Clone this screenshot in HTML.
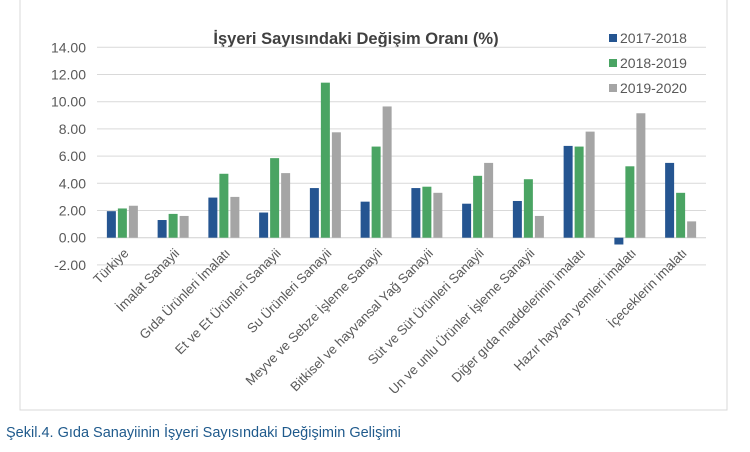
<!DOCTYPE html>
<html><head><meta charset="utf-8"><style>
body{margin:0;background:#fff;width:750px;height:447px;overflow:hidden;font-family:"Liberation Sans",sans-serif}
</style></head><body>
<svg width="750" height="447" id="svg">
<rect x="20" y="-2" width="707" height="412" fill="#fff" stroke="#d9d9d9"/>
<text x="356" y="44" text-anchor="middle" font-size="16.5" font-weight="bold" fill="#404040">İşyeri Sayısındaki Değişim Oranı (%)</text>
<g id="grid"></g><g id="bars"></g><g id="labels"></g>
<g>
<rect x="609" y="34" width="8" height="8" fill="#255591"/>
<text x="620" y="43" font-size="14" fill="#595959">2017-2018</text>
<rect x="609" y="59" width="8" height="8" fill="#4aa463"/>
<text x="620" y="68" font-size="14" fill="#595959">2018-2019</text>
<rect x="609" y="84" width="8" height="8" fill="#a5a5a5"/>
<text x="620" y="93" font-size="14" fill="#595959">2019-2020</text>
</g>
<text x="6" y="437" font-size="14.5" fill="#1f5a8c">Şekil.4. Gıda Sanayiinin İşyeri Sayısındaki Değişimin Gelişimi</text>
</svg>
<script>
const categories=["Türkiye","İmalat Sanayii","Gıda Ürünleri İmalatı","Et ve Et Ürünleri Sanayii","Su Ürünleri Sanayii","Meyve ve Sebze İşleme Sanayii","Bitkisel ve hayvansal Yağ Sanayii","Süt ve Süt Ürünleri Sanayii","Un ve unlu Ürünler İşleme Sanayii","Diğer gıda maddelerinin imalatı","Hazır hayvan yemleri imalatı","İçeceklerin imalatı"];
const s2017=[1.95,1.3,2.95,1.85,3.65,2.65,3.65,2.5,2.7,6.75,-0.5,5.5];
const s2018=[2.15,1.75,4.7,5.85,11.4,6.7,3.75,4.55,4.3,6.7,5.25,3.3];
const s2019=[2.35,1.6,3.0,4.75,7.75,9.65,3.3,5.5,1.6,7.8,9.15,1.2];
const yTicks=[-2,0,2,4,6,8,10,12,14];
const NS="http://www.w3.org/2000/svg";
const x0=97,x1=706,yZero=237.7,pxPer=13.6;
const y=v=>yZero-v*pxPer;
const bw=(x1-x0)/categories.length;
const g=document.getElementById('grid'),b=document.getElementById('bars'),L=document.getElementById('labels');
function mk(tag,attrs,parent){const e=document.createElementNS(NS,tag);for(const k in attrs)e.setAttribute(k,attrs[k]);parent.appendChild(e);return e;}
yTicks.forEach(t=>{
 const l=mk('line',{x1:x0,x2:x1,y1:y(t),y2:y(t),stroke:t===0?'#d0d0d0':'#d9d9d9','stroke-width':1},g);
 
 
 const tx=mk('text',{x:86,y:y(t)+5,'text-anchor':'end','font-size':14,fill:'#595959'},g);
 tx.textContent=t.toFixed(2);
 
 
});
const series=[[s2017,'#255591','2017-2018'],[s2018,'#4aa463','2018-2019'],[s2019,'#a5a5a5','2019-2020']];
categories.forEach((c,i)=>{
 const cx=x0+bw*(i+0.5);
 series.forEach(([arr,col,nm],j)=>{
  const v=arr[i];
  const r=mk('rect',{x:cx-15.5+j*11,y:Math.min(y(v),yZero),width:9,height:Math.abs(v)*pxPer,fill:col},b);
  
  
 });
 const t=mk('text',{x:cx+7,y:254,'text-anchor':'end','font-size':13.2,fill:'#595959',transform:`rotate(-45 ${cx+7} 254)`},L);
 t.textContent=c;
 
 
});
</script>
</body></html>
